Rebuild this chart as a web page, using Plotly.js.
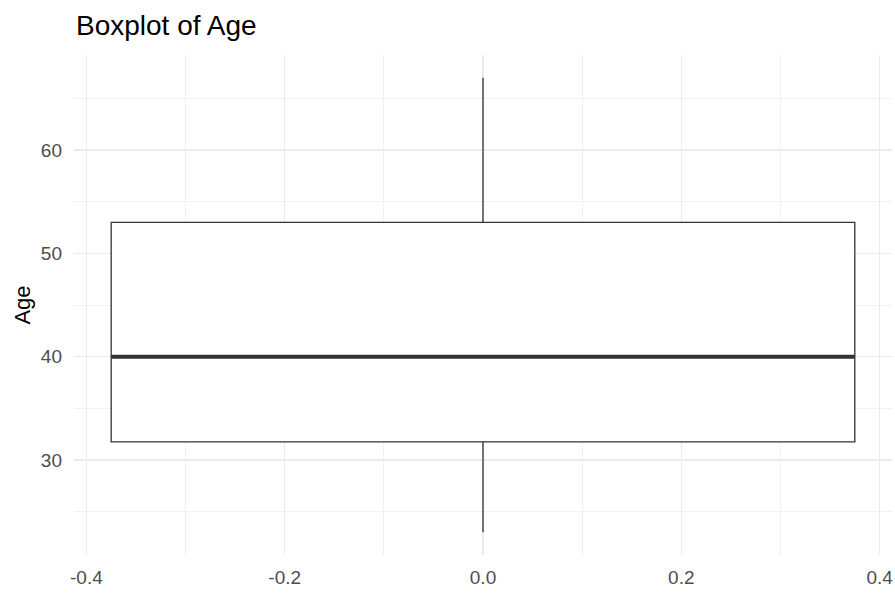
<!DOCTYPE html>
<html>
<head>
<meta charset="utf-8">
<script src="https://cdn.plot.ly/plotly-3.0.1.min.js"></script>
<style>html,body{margin:0;padding:0;background:#fff;}#chart{width:895px;height:593px;}</style>
</head>
<body>
<div id="chart"></div>
<script>
// Box statistics for Age
const boxPos = [0];
const lowerFence = [23];
const q1 = [31.75];
const median = [40];
const q3 = [53];
const upperFence = [67];
const boxWidth = 0.75;

const xTicks = [-0.4, -0.2, 0.0, 0.2, 0.4];
const xTickLabels = ['-0.4', '-0.2', '0.0', '0.2', '0.4'];
const yTicks = [30, 40, 50, 60];

const lineColor = '#333333';
const gridColor = '#ebebeb';

const boxTrace = {
  type: 'box',
  x: boxPos,
  q1: q1, median: median, q3: q3,
  lowerfence: lowerFence, upperfence: upperFence,
  width: boxWidth,
  whiskerwidth: 0,
  fillcolor: '#ffffff',
  line: {color: lineColor, width: 1.3},
  boxpoints: false,
  hoverinfo: 'skip',
  showlegend: false
};

const medianTrace = {
  type: 'scatter', mode: 'lines',
  x: [boxPos[0] - boxWidth / 2, boxPos[0] + boxWidth / 2],
  y: [median[0], median[0]],
  line: {color: lineColor, width: 4},
  hoverinfo: 'skip', showlegend: false
};

const xPad = boxWidth * 0.05;
const yMin = lowerFence[0], yMax = upperFence[0];
const yPad = (yMax - yMin) * 0.05;

const layout = {
  width: 895, height: 593,
  margin: {l: 74, r: 3, t: 55, b: 38},
  paper_bgcolor: '#ffffff', plot_bgcolor: '#ffffff',
  font: {family: 'Liberation Sans, Arial, sans-serif', color: '#4d4d4d', size: 19},
  title: {
    text: 'Boxplot of Age',
    font: {size: 28, color: '#000000', family: 'Liberation Sans, Arial, sans-serif'},
    x: 76 / 895, xref: 'container', xanchor: 'left',
    y: 1 - 25 / 593, yref: 'container', yanchor: 'middle'
  },
  xaxis: {
    range: [boxPos[0] - boxWidth / 2 - xPad, boxPos[0] + boxWidth / 2 + xPad],
    tickvals: xTicks, ticktext: xTickLabels,
    showgrid: true, gridcolor: gridColor, gridwidth: 1.3,
    minor: {dtick: 0.1, tick0: 0, showgrid: true, gridcolor: gridColor, gridwidth: 0.7},
    zeroline: false, showline: false, ticks: '',
    ticklabelstandoff: 9,
    tickfont: {size: 19, color: '#4d4d4d'}
  },
  yaxis: {
    range: [yMin - yPad, yMax + yPad],
    tickvals: yTicks,
    showgrid: true, gridcolor: gridColor, gridwidth: 1.3,
    minor: {dtick: 5, tick0: 0, showgrid: true, gridcolor: gridColor, gridwidth: 0.7},
    zeroline: false, showline: false, ticks: '',
    ticklabelstandoff: 11,
    tickfont: {size: 19, color: '#4d4d4d'},
    title: {text: 'Age', font: {size: 22, color: '#000000'}, standoff: 4}
  }
};

Plotly.newPlot('chart', [boxTrace, medianTrace], layout, {displayModeBar: false, staticPlot: true});
</script>
</body>
</html>
